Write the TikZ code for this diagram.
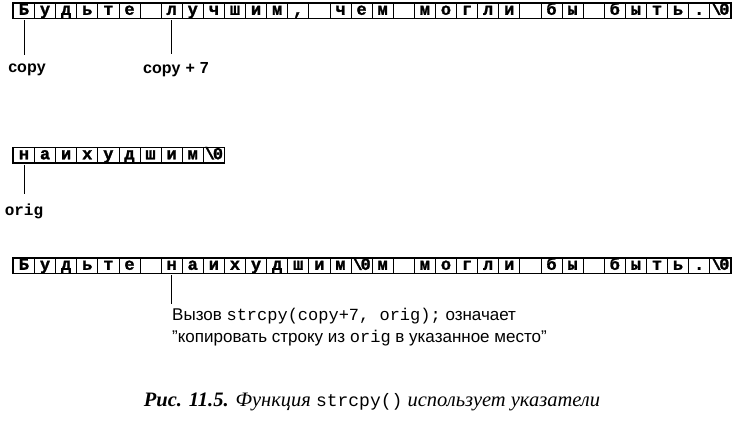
\documentclass[tikz,border=0pt]{standalone}
\usepackage{fontspec}
\setmainfont{Liberation Serif}
\setsansfont{Liberation Sans}
\setmonofont{Liberation Mono}
\newfontfamily\cellfont{Liberation Mono}[FakeBold=1.5]
\newcommand\nulchar{\textbackslash\kern-2pt 0}
\tikzset{
  cellbox/.style={draw, line width=0.8pt, minimum width=21.1pt, minimum height=15pt,
    inner sep=0pt, text height=10.5pt, text depth=2pt, anchor=west,
    font=\cellfont\bfseries\fontsize{17}{17}\selectfont},
  rowframe/.style={draw, line width=1.2pt},
  ptr/.style={line width=0.9pt},
  lbl/.style={inner sep=0pt, font=\sffamily\bfseries\fontsize{16}{16}\selectfont},
  monolbl/.style={inner sep=0pt, font=\ttfamily\bfseries\fontsize{16}{16}\selectfont},
  note/.style={inner sep=0pt, anchor=west, font=\sffamily\fontsize{17}{17}\selectfont},
  caption/.style={inner sep=0pt, font=\rmfamily\itshape\fontsize{20.5}{20.5}\selectfont}
}
\begin{document}
\begin{tikzpicture}[x=1pt,y=-1pt]
\useasboundingbox (0,0) rectangle (744,426);
% row 1
\foreach [count=\i from 0] \c in {Б,у,д,ь,т,е,{},л,у,ч,ш,и,м,{,},{},ч,е,м,{},м,о,г,л,и,{},б,ы,{},б,ы,т,ь,.,\nulchar}
  \node[cellbox] (a\i) at (13+\i*21.1,10.5) {\c};
\draw[rowframe] (a0.north west) rectangle (a33.south east);
% row 2
\foreach [count=\i from 0] \c in {н,а,и,х,у,д,ш,и,м,\nulchar}
  \node[cellbox] (b\i) at (13+\i*21.1,155) {\c};
\draw[rowframe] (b0.north west) rectangle (b9.south east);
% row 3
\foreach [count=\i from 0] \c in {Б,у,д,ь,т,е,{},н,а,и,х,у,д,ш,и,м,\nulchar,м,{},м,о,г,л,и,{},б,ы,{},б,ы,т,ь,.,\nulchar}
  \node[cellbox] (c\i) at (13+\i*21.1,265.5) {\c};
\draw[rowframe] (c0.north west) rectangle (c33.south east);
% labels
\node[lbl] (lcopy) at (27,70) {copy};
\node[lbl] (lcopyseven) at (176,70) {copy\hspace{5pt}+\hspace{5pt}7};
\node[monolbl] (lorig) at (24,211) {orig};
\node[note] (t1) at (172,316) {Вызов \texttt{strcpy(copy+7, orig);} означает};
\node[note] (t2) at (172,338) {"копировать строку из \texttt{orig} в указанное место"};
\node[caption] (cap) at (372,402) {{\bfseries Рис. 11.5.} Функция {\upshape\ttfamily\fontsize{18}{18}\selectfont strcpy()} использует указатели};
% pointers
\draw[ptr] ([yshift=-2pt]a0.south) -- ([yshift=9pt]lcopy.north -| a0.south);
\draw[ptr] ([yshift=-2pt]a7.south) -- ([yshift=9pt]lcopyseven.north -| a7.south);
\draw[ptr] ([yshift=-2pt]b0.south) -- ([yshift=9pt]lorig.north -| b0.south);
\draw[ptr] ([yshift=-2pt]c7.south) -- ([yshift=4pt]t1.north west -| c7.south);
\end{tikzpicture}
\end{document}
